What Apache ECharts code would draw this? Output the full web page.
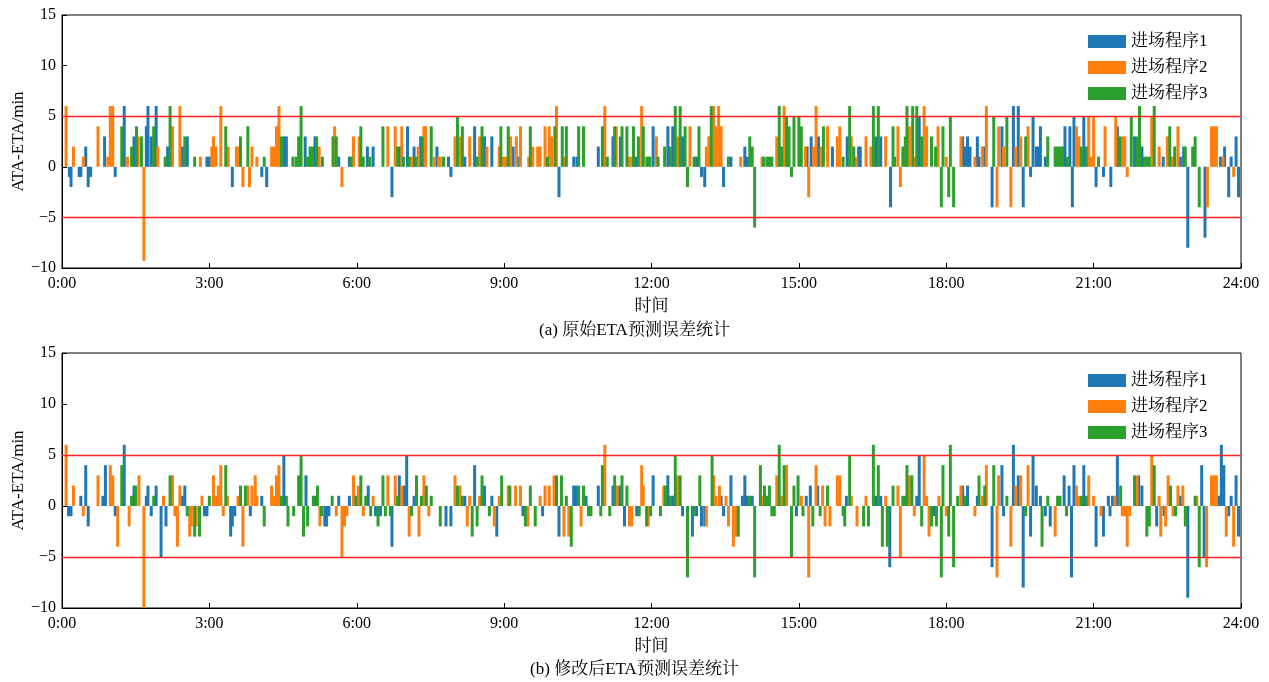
<!DOCTYPE html>
<html><head><meta charset="utf-8">
<script src="https://cdn.jsdelivr.net/npm/echarts@6/dist/echarts.min.js"></script>
<style>html,body{margin:0;padding:0;background:#fff}#c{width:1269px;height:682px}</style>
</head><body><div id="c"></div>
<script>
// [minute of day, ATA-ETA in min]
const seriesNames = ['进场程序1','进场程序2','进场程序3'];
const xTickLabels = ['0:00','3:00','6:00','9:00','12:00','15:00','18:00','21:00','24:00'];
const panelTitles = ['(a) 原始ETA预测误差统计','(b) 修改后ETA预测误差统计'];

const origProc1 = [[9,-1],[11,-2],[21,-1],[23,-1],[29,2],[32,-2],[35,-1],[52,3],[65,-1],[76,6],[88,3],[103,4],[105,6],[109,3],[115,6],[129,2],[147,2],[153,3],[177,1],[180,1],[208,-2],
[244,-1],[250,-2],[271,3],[274,3],[297,3],[309,3],[338,1],[351,1],[373,2],[380,2],[403,-3],[413,2],[422,4],[430,2],[438,3],[458,2],[472,1],[475,-1],
[492,1],[504,4],[516,3],[525,3],[551,2],[557,1],[607,-3],[625,1],[629,1],[655,2],[673,3],[682,3],[701,1],
[722,4],[740,4],[746,4],[758,3],[775,1],[781,-1],[785,-2],[808,-2],[817,1],[834,2],[837,1],[910,2],[915,3],[924,3],[941,2],
[959,3],[973,2],[975,2],[994,3],[1000,3],[1012,-4],[1047,5],[1100,3],[1103,2],[1106,3],[1109,2],[1118,3],[1120,1],[1126,2],[1136,-4],[1148,4],[1162,6],[1168,6],[1174,-4],[1183,-1],[1186,5],[1190,2],[1192,2],
[1195,4],[1201,1],[1225,4],[1231,4],[1234,-4],[1236,5],[1248,5],[1263,-2],[1272,-1],[1281,-2],[1289,4],[1310,3],[1319,2],[1345,1],[1366,1],[1370,2],[1375,-8],[1396,-7],[1415,1],[1420,2],[1425,-3],[1428,1],[1434,3],[1437,-3]];

const origProc2 = [[5,6],[14,2],[26,1],[44,4],[56,1],[59,6],[62,6],[80,1],[93,3],[100,-9.3],[117,2],[135,4],[144,6],[169,1],[183,2],[185,3],[188,2],[194,6],[203,2],[213,2],[215,2],[221,-2],[229,-2],[232,2],[238,1],
[256,2],[259,2],[262,4],[265,6],[314,2],[333,4],[342,-2],[356,3],[363,3],[398,4],[407,4],[415,4],[427,1],[435,2],[442,4],[444,4],[455,1],[460,1],[462,1],
[480,3],[486,3],[498,3],[510,3],[519,2],[534,2],[539,1],[542,1],[548,3],[555,3],[560,4],[570,1],[575,2],[581,2],[584,2],[590,4],[595,4],[598,3],[604,6],[614,1],[663,6],[677,4],[693,1],[696,1],[708,6],[714,1],
[726,3],[752,3],[767,4],[787,2],[790,3],[796,6],[799,4],[802,6],[805,4],[829,1],[855,1],[873,3],[882,6],[908,2],[912,-3],[918,2],[921,6],[927,2],[935,4],[947,3],[950,4],
[964,3],[970,1],[982,3],[988,2],[1006,3],[1021,4],[1024,-2],[1035,4],[1041,1],[1053,6],[1056,4],[1070,4],[1080,1],[1098,3],[1115,1],[1124,2],[1129,6],[1142,-4],[1144,4],[1150,2],[1159,-4],[1165,2],[1171,3],[1180,4],
[1239,4],[1242,3],[1254,5],[1257,1],[1260,5],[1274,4],[1287,5],[1295,3],[1298,3],[1301,-1],[1331,5],[1340,2],[1350,3],[1356,1],[1363,4],[1399,-4],[1404,4],[1407,4],[1410,4],[1418,1],[1431,-1]];

const origProc3 = [[73,4],[85,2],[91,4],[97,3],[112,4],[126,1],[132,6],[150,3],[162,1],[200,4],[218,3],[227,4],
[247,1],[268,3],[282,1],[286,1],[289,3],[292,6],[300,1],[303,2],[306,2],[311,3],[318,1],[331,3],[335,3],[353,1],[365,4],[368,1],[376,1],[392,4],[410,2],[417,1],[424,1],[432,1],[440,3],[451,4],[466,1],
[483,5],[489,4],[507,1],[513,4],[536,4],[545,4],[572,4],[593,1],[602,4],[611,4],[616,4],[631,4],[637,4],[660,4],[666,1],[675,4],[684,4],[690,4],[698,4],[704,3],[710,4],
[715,1],[718,1],[728,1],[736,2],[743,2],[749,6],[755,6],[761,4],[764,-2],[772,1],[778,4],[793,6],[814,1],[840,3],[843,2],[846,-6],[857,1],[861,1],[864,1],[867,1],[876,6],[879,2],[885,5],[888,4],[891,-1],[894,5],[900,5],[903,4],[930,4],[954,1],
[962,6],[967,2],[991,6],[997,6],[1015,4],[1017,1],[1027,2],[1030,3],[1032,6],[1039,6],[1044,6],[1050,3],[1062,3],[1067,2],[1074,-4],[1076,4],[1083,-3],[1085,5],[1089,-4],[1138,5],[1154,5],[1177,3],
[1204,3],[1213,2],[1216,2],[1219,2],[1222,2],[1228,1],[1245,2],[1251,2],[1266,1],[1292,3],[1306,5],[1313,3],[1316,6],[1322,1],[1325,1],[1328,1],[1334,6],[1353,4],[1359,2],[1372,2],[1381,2],[1384,3],[1389,-4]];

const newProc1 = [[8,-1],[11,-1],[23,1],[29,4],[32,-2],[50,1],[53,4],[65,-1],[76,6],[88,2],[103,1],[105,2],[109,-1],[115,2],[121,-5],[127,-2],[147,1],[150,2],[174,-1],[177,-1],[206,-3],[208,-2],[211,-1],[230,-1],
[244,1],[271,5],[298,3],[309,1],[321,-2],[323,-2],[326,-1],[338,1],[351,1],[374,2],[383,-1],[389,-1],[403,-4],[412,3],[418,2],[421,5],[430,1],[469,-2],[475,-2],
[492,1],[504,4],[516,2],[525,1],[531,-3],[563,-1],[587,-1],[607,-3],[625,2],[628,2],[640,1],[655,2],[673,2],[681,2],[687,-2],[702,-1],
[722,3],[740,3],[746,1],[758,-1],[770,-3],[775,-1],[781,-2],[785,-2],[805,1],[808,-1],[817,3],[831,1],[834,3],[837,1],[843,1],[897,-1],[909,1],[914,2],[923,2],
[958,1],[994,1],[1000,1],[1011,-6],[1044,1],[1047,5],[1065,-1],[1100,2],[1106,2],[1118,1],[1136,-6],[1148,4],[1150,-1],[1162,6],[1168,3],[1174,-8],[1183,-3],[1186,5],[1190,2],
[1195,1],[1201,-1],[1207,-2],[1224,3],[1230,2],[1233,-7],[1236,4],[1248,4],[1263,-4],[1272,-3],[1278,1],[1280,-1],[1283,1],[1289,5],[1315,3],[1319,2],[1337,-2],[1346,-1],[1366,1],[1375,-9],[1392,4],[1395,-5],[1413,1],[1416,6],[1419,4],[1425,-1],[1428,1],[1434,3],[1437,-3]];

const newProc2 = [[5,6],[14,2],[26,-1],[44,3],[59,4],[62,3],[68,-4],[82,-2],[94,3],[100,-10],[124,1],[135,3],[138,-1],[141,-4],[144,2],[156,-3],[158,-2],[164,-2],[171,1],[185,3],[188,1],[191,2],[194,4],[197,-1],[202,1],[215,1],[221,-4],[227,2],[232,2],[236,3],[238,1],
[256,2],[259,1],[262,3],[265,4],[315,-2],[335,-1],[342,-5],[345,-2],[348,-1],[356,3],[362,2],[368,-1],[380,1],[398,3],[407,3],[415,2],[424,-3],[436,-3],[442,3],[448,-1],
[480,3],[486,2],[495,-2],[498,1],[510,1],[528,-2],[534,1],[545,2],[554,2],[560,2],[569,-2],[584,1],[590,2],[595,2],[601,3],[613,-3],[619,-3],[634,-2],[663,6],[678,2],[693,-2],[696,-2],[708,4],[710,2],[716,-2],
[735,2],[752,3],[787,-2],[796,3],[799,1],[803,2],[811,1],[814,-2],[820,-4],[823,-3],[855,1],[873,3],[879,1],[885,4],[903,1],[912,-7],[921,4],[929,2],[932,-2],[938,-2],[947,3],[950,3],
[964,1],[971,-2],[982,1],[1006,1],[1021,2],[1024,-5],[1035,3],[1041,-1],[1053,5],[1056,1],[1059,-3],[1071,1],[1080,-1],[1098,2],[1115,-1],[1124,1],[1129,4],[1142,-7],[1144,3],[1159,-4],[1165,2],[1171,3],[1180,4],
[1213,-3],[1239,2],[1242,1],[1254,3],[1260,1],[1269,-1],[1286,1],[1295,-1],[1298,-1],[1301,-4],[1304,-1],[1313,3],[1331,5],[1340,1],[1342,-3],[1348,-2],[1351,3],[1357,-1],[1363,2],[1369,2],[1386,1],[1398,-6],[1404,3],[1407,3],[1410,3],[1422,-3],[1431,-4]];

const newProc3 = [[73,4],[85,1],[90,2],[112,1],[132,3],[153,-1],[162,-3],[168,-3],[180,1],[200,4],[218,2],[224,2],
[247,-2],[268,1],[274,1],[276,-2],[283,-1],[289,3],[292,5],[295,-3],[300,-2],[307,1],[312,2],[317,-1],[330,1],[359,1],[365,3],[371,1],[377,-1],[386,-2],[392,3],[395,-1],[401,-1],[410,1],[427,-1],[433,3],[439,1],[445,2],[451,1],[462,-2],
[483,2],[489,1],[501,-3],[507,-2],[513,3],[522,-1],[537,3],[547,2],[566,-2],[572,2],[578,-2],[604,3],[610,3],[616,1],[622,-4],[631,2],[637,2],[643,-1],[646,-1],[658,-1],[660,4],[669,-1],[675,3],[684,3],[690,2],[705,-1],[714,-2],
[719,-1],[731,-1],[737,2],[743,1],[749,5],[755,3],[764,-7],[772,-1],[779,3],[794,5],[826,-3],[840,1],[846,-7],[853,4],[858,2],[861,1],[864,2],[867,-1],[870,-1],[876,6],[882,4],[891,-5],[894,2],[899,3],[905,-1],[917,-2],[926,-1],[935,2],[954,-1],
[956,-2],[962,5],[979,-2],[985,-2],[991,6],[997,4],[1002,-4],[1008,-4],[1015,2],[1027,1],[1030,1],[1032,4],[1038,3],[1050,-2],[1062,-2],[1068,-2],[1074,-7],[1076,4],[1083,-3],[1085,6],[1089,-6],[1094,1],[1103,1],[1120,3],[1127,2],[1138,4],[1154,1],[1177,-1],
[1197,-4],[1204,1],[1216,1],[1219,1],[1227,-1],[1245,1],[1251,1],[1293,2],[1310,3],[1325,-3],[1328,-2],[1334,4],[1354,2],[1360,-1],[1372,-2],[1384,1],[1389,-6]];

const limitLines = [5, -5];

const colors = ['#1f77b4','#ff7f0e','#2ca02c'];
const FONT = '"Liberation Serif","Times New Roman","Noto Serif CJK SC","Noto Sans CJK SC",serif';
const panels = [
  {top:15, height:253, data:[origProc1, origProc2, origProc3], titleTop:317, legendTop:28},
  {top:353, height:255, data:[newProc1, newProc2, newProc3], titleTop:656, legendTop:367}
];

const grid=[], xAxis=[], yAxis=[], series=[], title=[], legend=[];
panels.forEach((p,i)=>{
  grid.push({left:62, width:1179, top:p.top, height:p.height, show:true, borderColor:'#000', borderWidth:1,
    backgroundColor:'transparent', containLabel:false, outerBoundsMode:'none'});
  xAxis.push({type:'value', gridIndex:i, min:0, max:1440, interval:180,
    name:'时间', nameLocation:'middle', nameGap:30, nameMoveOverlap:false,
    nameTextStyle:{fontFamily:FONT, fontSize:17, color:'#000'},
    axisLine:{onZero:false, lineStyle:{color:'#000', width:1}},
    axisTick:{inside:true, length:5, lineStyle:{color:'#000'}},
    axisLabel:{fontFamily:FONT, fontSize:16, color:'#000', margin:8,
      formatter:(v)=>xTickLabels[Math.round(v/180)]},
    splitLine:{show:false}});
  yAxis.push({type:'value', gridIndex:i, min:-10, max:15, interval:5,
    name:'ATA-ETA/min', nameLocation:'middle', nameGap:35, nameRotate:90, nameMoveOverlap:false,
    nameTextStyle:{fontFamily:FONT, fontSize:17, color:'#000'},
    axisLine:{show:true, lineStyle:{color:'#000', width:1}},
    axisTick:{show:true, inside:true, length:5, lineStyle:{color:'#000'}},
    axisLabel:{fontFamily:FONT, fontSize:16, color:'#000', margin:6,
      formatter:(v)=>String(v).replace('-','\u2212')},
    splitLine:{show:false}});
  title.push({text:panelTitles[i], left:'center', top:p.titleTop,
    textStyle:{fontFamily:FONT, fontSize:17, fontWeight:'normal', color:'#000'}});
  legend.push({data:seriesNames, orient:'vertical', left:1083, top:p.legendTop,
    itemWidth:38, itemHeight:13, itemGap:9, icon:'rect',
    textStyle:{fontFamily:FONT, fontSize:17, color:'#000'}});
  p.data.forEach((d,k)=>{
    const s = {type:'bar', name:seriesNames[k], xAxisIndex:i, yAxisIndex:i,
      data:d, barWidth:3, barGap:'-100%', itemStyle:{color:colors[k]}, animation:false};
    if(k===0){
      s.markLine = {silent:true, symbol:'none', label:{show:false},
        lineStyle:{color:'#ff2020', width:1.3, type:'solid'},
        data: limitLines.map(v=>({yAxis:v}))};
    }
    series.push(s);
  });
});

const chart = echarts.init(document.getElementById('c'), null, {renderer:'canvas'});
chart.setOption({animation:false, color:colors, grid, xAxis, yAxis, series, title, legend});
</script></body></html>
